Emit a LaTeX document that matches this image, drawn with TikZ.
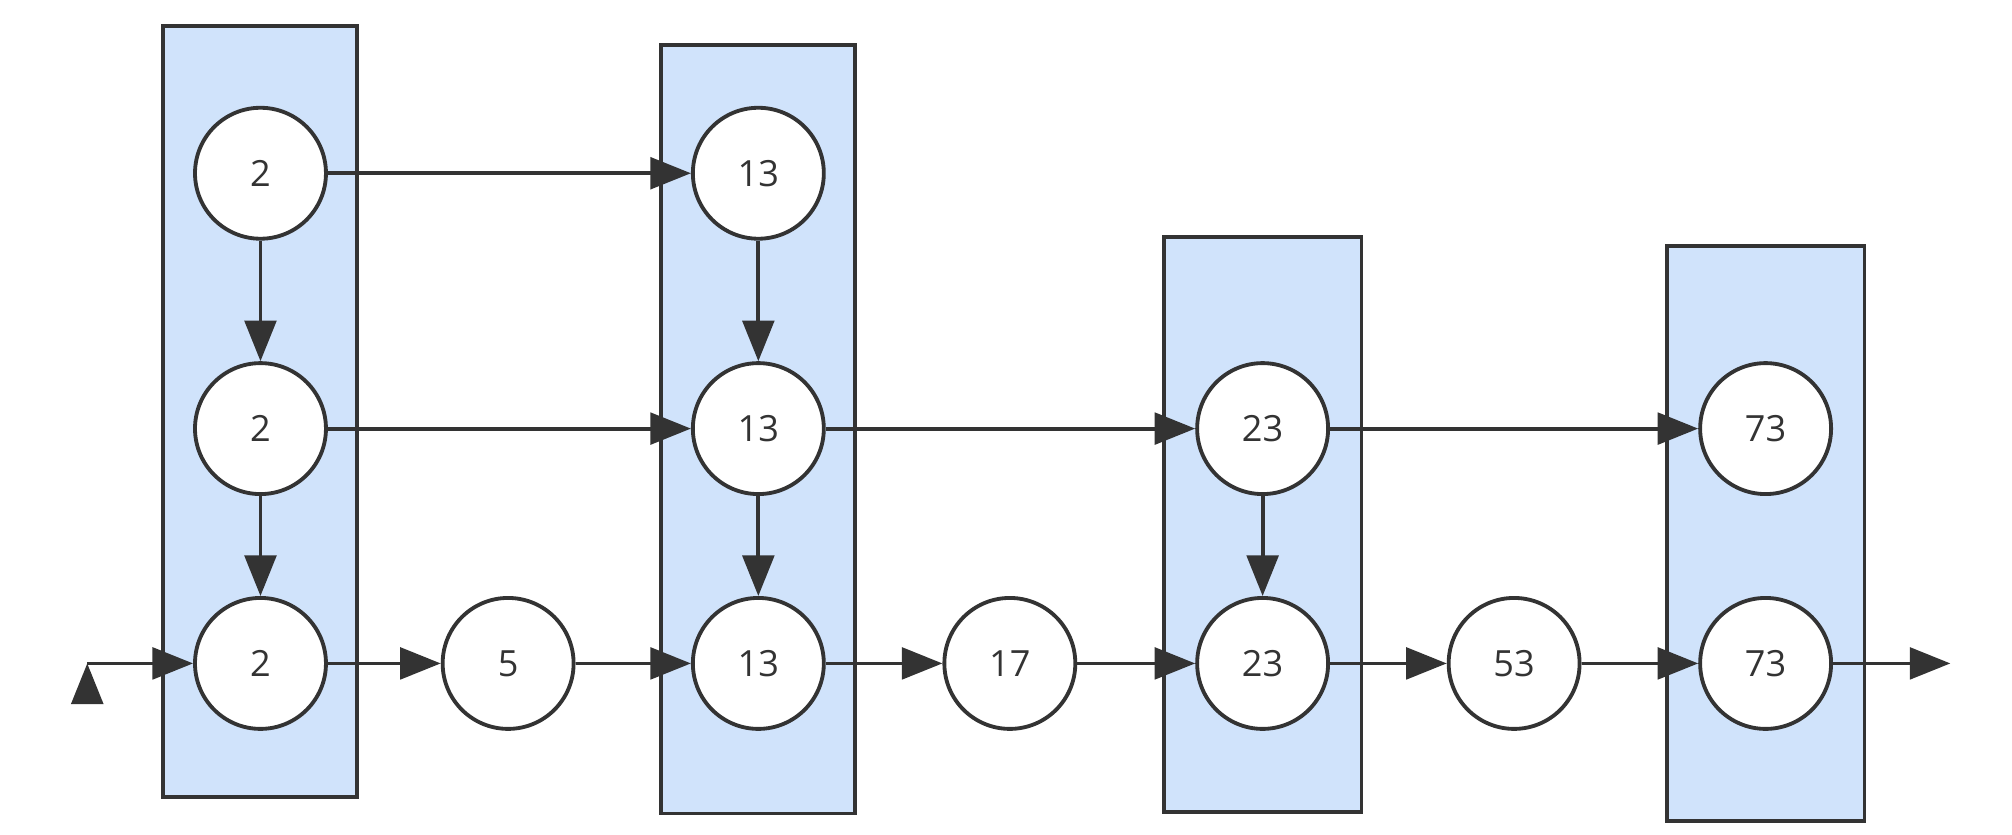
\documentclass[tikz,border=0pt]{standalone}
\usepackage{fontspec}
\setmainfont{Open Sans}
\usetikzlibrary{arrows.meta}
\definecolor{boxblue}{HTML}{D0E3FB}
\definecolor{ink}{HTML}{333333}
\begin{document}
\begin{tikzpicture}[x=0.01cm,y=-0.01cm,->,>={Triangle[length=9pt,width=7pt]},
                    line width=0.85pt,draw=ink,
                    every node/.style={font=\fontsize{8}{10}\selectfont,text=ink}]
  \tikzstyle{num}=[circle,draw=ink,fill=white,minimum size=1.02cm,inner sep=0pt]
  \tikzstyle{col}=[draw=ink,fill=boxblue,line width=0.85pt]
  \useasboundingbox (0,0) rectangle (1568,650);

  \path[col] (127,20) rectangle (278,621);
  \path[col] (515,35) rectangle (666,634);
  \path[col] (907,185) rectangle (1061,633);
  \path[col] (1299,192) rectangle (1453,640);

  \node[num] (A1) at (203,135) {2};
  \node[num] (A2) at (203,334) {2};
  \node[num] (A3) at (203,517) {2};
  \node[num] (P5) at (396,517) {5};
  \node[num] (B1) at (591,135) {13};
  \node[num] (B2) at (591,334) {13};
  \node[num] (B3) at (591,517) {13};
  \node[num] (P17) at (787,517) {17};
  \node[num] (C2) at (984,334) {23};
  \node[num] (C3) at (984,517) {23};
  \node[num] (P53) at (1180,517) {53};
  \node[num] (D2) at (1376,334) {73};
  \node[num] (D3) at (1376,517) {73};
  \coordinate (in)  at (68,517);
  \coordinate (out) at (1520,517);

  \path[draw=ink] (in) edge (A3)
        (A1) edge (B1)
             edge (A2)
        (A2) edge (B2)
             edge (A3)
        (A3) edge (P5)
        (P5) edge (B3)
        (B1) edge (B2)
        (B2) edge (C2)
             edge (B3)
        (B3) edge (P17)
        (P17) edge (C3)
        (C2) edge (D2)
             edge (C3)
        (C3) edge (P53)
        (P53) edge (D3)
        (D3) edge (out);
\end{tikzpicture}
\end{document}
